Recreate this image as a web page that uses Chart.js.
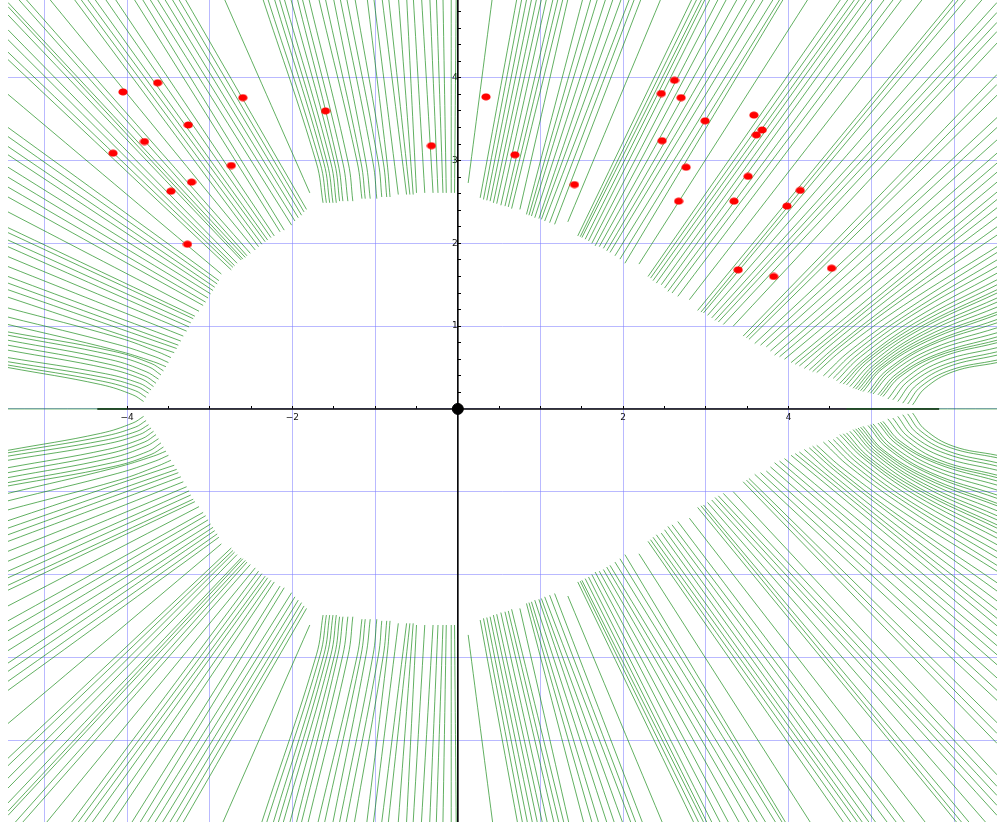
<!DOCTYPE html>
<html><head><meta charset="utf-8">
<script src="https://cdn.jsdelivr.net/npm/chart.js@4/dist/chart.umd.min.js"></script>
<style>html,body{margin:0;padding:0;background:#fff;}#wrap{width:999px;height:824px;}</style>
</head><body><div id="wrap"><canvas id="c" width="999" height="824"></canvas></div>
<script>
// ---- axis ranges / ticks ----
const xRange = [-5.44, 6.52];
const yRange = [-4.99, 4.94];
const xGridValues = [-5,-4,-3,-2,-1,0,1,2,3,4,5,6];
const yGridValues = [-4,-3,-2,-1,0,1,2,3,4];
const xTickMarks = [-4,-3.5,-3,-2.5,-2,-1.5,-1,-0.5,0,0.5,1,1.5,2,2.5,3,3.5,4,4.5];
const yTickMarks = [0,0.2,0.4,0.6,0.8,1,1.2,1.4,1.6,1.8,2,2.2,2.4,2.6,2.8,3,3.2,3.4,3.6,3.8,4,4.2,4.4,4.6,4.8];
const xLabelValues = [-4,-2,2,4];
const xLabelTexts = ['\u22124','\u22122','2','4'];
const yLabelValues = [1,2,3,4];
const yLabelTexts = ['1','2','3','4'];
const xAxisSpan = [-4.36, 5.82];
const yAxisSpan = [-4.99, 4.94];

// ---- red points ----
const dotX = [-4.05,-3.63,-2.60,-3.26,-3.79,-4.17,-2.74,-3.22,-3.47,-3.27,-1.60,-0.32,0.34,0.69,1.41,2.62,2.46,2.70,2.99,3.58,3.68,3.61,2.47,2.76,3.51,2.67,3.34,4.14,3.98,3.39,3.82,4.52];
const dotY = [3.83,3.94,3.76,3.43,3.23,3.09,2.94,2.74,2.63,1.99,3.60,3.18,3.77,3.07,2.71,3.97,3.81,3.76,3.48,3.55,3.37,3.31,3.24,2.92,2.81,2.51,2.51,2.64,2.45,1.68,1.60,1.70];

// ---- green field lines, upper half (x,y pairs from the blank region outwards) ----
const leftFan = [
 [-1.83,2.41, -3.32,4.99],
 [-1.86,2.38, -3.40,4.99],
 [-1.89,2.34, -3.48,4.99],
 [-1.93,2.31, -3.57,4.99],
 [-1.97,2.27, -3.66,4.99],
 [-2.01,2.22, -3.75,4.99],
 [-2.10,2.16, -3.84,4.99],
 [-2.15,2.14, -3.94,4.99],
 [-2.22,2.09, -4.17,4.99],
 [-2.26,2.07, -4.29,4.99],
 [-2.30,2.04, -4.42,4.99],
 [-2.33,2.02, -4.51,4.99],
 [-2.37,1.99, -4.59,4.99],
 [-2.41,1.96, -4.67,4.99],
 [-2.45,1.92, -4.97,4.99],
 [-2.51,1.88, -5.26,4.99],
 [-2.55,1.85, -5.35,4.99],
 [-2.57,1.83, -5.44,4.91],
 [-2.60,1.81, -5.44,4.86],
 [-2.62,1.80, -5.44,4.76],
 [-2.67,1.76, -5.44,4.58],
 [-2.70,1.73, -5.44,4.46],
 [-2.72,1.71, -5.44,4.31],
 [-2.74,1.68, -5.44,4.22],
 [-2.86,1.63, -5.44,3.80],
 [-2.89,1.55, -5.44,3.40],
 [-2.91,1.51, -5.44,3.29],
 [-2.94,1.47, -5.44,3.17],
 [-2.96,1.43, -5.44,3.07],
 [-2.99,1.39, -5.44,2.92],
 [-3.02,1.34, -5.44,2.80],
 [-3.05,1.29, -5.44,2.68],
 [-3.08,1.25, -5.44,2.56],
 [-3.13,1.18, -5.44,2.38],
 [-3.18,1.12, -5.44,2.19],
 [-3.20,1.09, -5.44,2.13],
 [-3.23,1.04, -5.44,2.04],
 [-3.25,0.99, -5.44,1.96],
 [-3.28,0.94, -5.44,1.84],
 [-3.32,0.88, -5.44,1.72],
 [-3.35,0.82, -5.44,1.60],
 [-3.38,0.77, -5.44,1.52],
 [-3.40,0.73, -5.44,1.44],
 [-3.43,0.68, -5.44,1.35],
 [-3.47,0.62, -3.63,0.69, -4.10,0.86, -5.44,1.22],
 [-3.50,0.56, -3.66,0.63, -4.12,0.78, -5.44,1.11],
 [-3.53,0.51, -3.68,0.57, -4.14,0.71, -5.44,1.02],
 [-3.56,0.46, -3.71,0.55, -4.16,0.695, -5.44,0.93],
 [-3.59,0.41, -3.74,0.51, -4.18,0.65, -5.44,0.89],
 [-3.62,0.36, -3.77,0.45, -4.20,0.595, -5.44,0.83],
 [-3.65,0.31, -3.79,0.40, -4.22,0.54, -5.44,0.77],
 [-3.68,0.27, -3.82,0.36, -4.24,0.49, -5.44,0.71],
 [-3.71,0.23, -3.85,0.31, -4.26,0.425, -5.44,0.62],
 [-3.74,0.19, -3.88,0.27, -4.28,0.38, -5.44,0.57],
 [-3.77,0.14, -3.90,0.22, -4.30,0.335, -5.44,0.53],
 [-3.80,0.09, -3.93,0.17, -4.32,0.295, -5.44,0.50]
];
const topFan = [
 [-1.79,2.61, -2.84,4.99],
 [-1.63,2.49, -1.71,2.97, -2.37,4.99],
 [-1.59,2.49, -1.665,2.97, -2.31,4.99],
 [-1.55,2.49, -1.62,2.97, -2.23,4.99],
 [-1.51,2.49, -1.58,2.97, -2.17,4.99],
 [-1.47,2.49, -1.535,2.97, -2.11,4.99],
 [-1.43,2.51, -1.49,2.97, -2.03,4.99],
 [-1.39,2.51, -1.45,2.97, -1.95,4.99],
 [-1.33,2.51, -1.39,2.97, -1.89,4.99],
 [-1.27,2.51, -1.325,2.97, -1.81,4.99],
 [-1.16,2.54, -1.215,2.97, -1.69,4.99],
 [-1.12,2.54, -1.17,2.97, -1.61,4.99],
 [-1.06,2.54, -1.11,2.97, -1.51,4.99],
 [-0.98,2.54, -1.025,2.97, -1.43,4.99],
 [-0.92,2.56, -0.96,2.97, -1.35,4.99],
 [-0.86,2.56, -0.90,2.97, -1.25,4.99],
 [-0.82,2.56, -0.855,2.97, -1.10,4.99],
 [-0.72,2.59, -1.02,4.99],
 [-0.62,2.59, -0.92,4.99],
 [-0.58,2.59, -0.84,4.99],
 [-0.54,2.59, -0.72,4.99],
 [-0.50,2.61, -0.62,4.99],
 [-0.40,2.61, -0.54,4.99],
 [-0.30,2.61, -0.44,4.99],
 [-0.24,2.61, -0.34,4.99],
 [-0.18,2.61, -0.26,4.99],
 [-0.14,2.61, -0.18,4.99],
 [-0.08,2.61, -0.08,4.99],
 [-0.04,2.61, -0.02,4.99],
 [0.125,2.73, 0.42,4.99]
];
const rightFan = [
 [0.27,2.55, 0.72,4.99],
 [0.31,2.53, 0.78,4.99],
 [0.35,2.52, 0.84,4.99],
 [0.39,2.51, 0.90,4.99],
 [0.43,2.49, 0.96,4.99],
 [0.47,2.48, 1.02,4.99],
 [0.52,2.46, 1.08,4.99],
 [0.57,2.45, 1.16,4.99],
 [0.61,2.44, 1.22,4.99],
 [0.65,2.42, 1.28,4.99],
 [0.75,2.41, 1.34,4.99],
 [0.83,2.35, 1.52,4.99],
 [0.86,2.34, 1.62,4.99],
 [0.89,2.33, 1.70,4.99],
 [0.93,2.31, 1.80,4.99],
 [0.98,2.30, 1.89,4.99],
 [1.01,2.29, 1.99,4.99],
 [1.05,2.27, 2.09,4.99],
 [1.11,2.25, 2.15,4.99],
 [1.17,2.23, 2.23,4.99],
 [1.33,2.26, 2.47,4.99],
 [1.45,2.09, 2.85,4.99],
 [1.48,2.08, 2.91,4.99],
 [1.50,2.07, 2.97,4.99],
 [1.54,2.05, 3.01,4.99],
 [1.58,2.03, 3.07,4.99],
 [1.62,2.00, 3.17,4.99],
 [1.66,1.97, 3.27,4.99],
 [1.71,1.96, 3.40,4.99],
 [1.76,1.94, 3.52,4.99],
 [1.80,1.91, 3.62,4.99],
 [1.84,1.89, 3.72,4.99],
 [1.90,1.85, 3.84,4.99],
 [1.96,1.81, 3.92,4.99],
 [2.02,1.76, 3.96,4.99],
 [2.19,1.75, 4.26,4.99],
 [2.30,1.60, 4.66,4.99],
 [2.33,1.58, 4.75,4.99],
 [2.36,1.55, 4.83,4.99],
 [2.40,1.52, 4.89,4.99],
 [2.46,1.50, 4.97,4.99],
 [2.50,1.46, 5.05,4.99],
 [2.54,1.42, 5.19,4.99],
 [2.59,1.40, 5.30,4.99],
 [2.66,1.36, 5.40,4.99],
 [2.80,1.32, 5.65,4.99],
 [2.90,1.19, 6.03,4.99],
 [2.94,1.17, 6.09,4.99],
 [2.97,1.16, 6.18,4.99],
 [3.02,1.13, 6.38,4.99],
 [3.07,1.10, 6.52,4.91],
 [3.11,1.07, 6.52,4.79],
 [3.15,1.05, 6.52,4.67],
 [3.21,1.02, 6.52,4.56],
 [3.33,1.00, 6.52,4.42],
 [3.45,0.88, 6.52,4.04],
 [3.49,0.86, 6.52,3.92],
 [3.52,0.84, 6.52,3.79],
 [3.59,0.79, 6.52,3.52],
 [3.66,0.77, 6.52,3.40],
 [3.73,0.75, 6.52,3.25],
 [3.78,0.70, 6.52,3.09],
 [3.83,0.65, 6.52,2.97],
 [3.89,0.63, 6.52,2.86],
 [3.95,0.60, 6.52,2.74],
 [4.03,0.56, 6.52,2.62],
 [4.08,0.54, 6.52,2.53],
 [4.13,0.52, 4.49,0.82, 5.28,1.46, 6.52,2.43],
 [4.19,0.49, 4.54,0.80, 5.31,1.41, 6.52,2.32],
 [4.25,0.47, 4.59,0.77, 5.34,1.35, 6.52,2.20],
 [4.29,0.45, 4.62,0.75, 5.36,1.31, 6.52,2.10],
 [4.34,0.44, 4.67,0.73, 5.39,1.25, 6.52,1.96],
 [4.42,0.40, 4.74,0.70, 5.43,1.20, 6.52,1.89],
 [4.48,0.38, 4.79,0.68, 5.46,1.16, 6.52,1.80],
 [4.54,0.37, 4.84,0.66, 5.49,1.13, 6.52,1.72],
 [4.58,0.34, 4.87,0.63, 5.51,1.08, 6.52,1.64],
 [4.62,0.31, 4.91,0.60, 5.53,1.04, 6.52,1.56],
 [4.66,0.30, 4.94,0.59, 5.55,1.01, 6.52,1.50],
 [4.70,0.29, 4.97,0.58, 5.57,0.98, 6.52,1.44],
 [4.74,0.27, 5.01,0.56, 5.59,0.96, 6.52,1.40],
 [4.78,0.25, 5.04,0.54, 5.62,0.93, 6.52,1.34],
 [4.81,0.24, 5.07,0.53, 5.63,0.90, 6.52,1.29],
 [4.84,0.23, 5.09,0.51, 5.65,0.87, 6.52,1.23],
 [4.87,0.22, 5.12,0.50, 5.66,0.84, 6.52,1.17],
 [4.90,0.21, 5.14,0.49, 5.68,0.82, 6.52,1.14],
 [4.96,0.20, 5.19,0.47, 5.71,0.79, 6.52,1.08],
 [4.99,0.19, 5.22,0.46, 5.72,0.77, 6.52,1.04],
 [5.02,0.18, 5.25,0.44, 5.74,0.73, 6.52,0.98],
 [5.08,0.17, 5.30,0.42, 5.77,0.70, 6.52,0.92],
 [5.11,0.16, 5.32,0.40, 5.79,0.66, 6.52,0.87],
 [5.14,0.15, 5.35,0.39, 5.80,0.64, 6.52,0.83],
 [5.20,0.12, 5.40,0.36, 5.83,0.62, 6.52,0.80],
 [5.26,0.11, 5.45,0.34, 5.87,0.58, 6.52,0.74],
 [5.32,0.09, 5.50,0.32, 5.90,0.54, 6.52,0.69],
 [5.38,0.07, 5.55,0.29, 5.93,0.51, 6.52,0.65],
 [5.44,0.06, 5.60,0.27, 5.96,0.47, 6.52,0.59],
 [5.50,0.05, 5.65,0.25, 5.99,0.45, 6.52,0.56]
];
// field lines lying on the x axis itself
const axisFieldLines = [
 [-5.44,0, -4.00,0],
 [4.70,0, 6.52,0]
];

// ---- helpers ----
const near = (a, b) => Math.abs(a - b) < 1e-6;
const inList = (v, list) => list.some(a => near(a, v));
function linesToPoints(lines, ySign) {
  const pts = [];
  lines.forEach(l => {
    for (let i = 0; i < l.length; i += 2) pts.push({x: l[i], y: ySign * l[i + 1]});
    pts.push({x: null, y: null});
  });
  return pts;
}
const upperLines = [...leftFan, ...topFan, ...rightFan];
// the figure is symmetric about y = 0: the lower half shows the same lines reflected
const upperPts = linesToPoints(upperLines, 1);
const lowerPts = linesToPoints(upperLines, -1);
const axisPts = linesToPoints(axisFieldLines, 1);

const dotImg = document.createElement('canvas');
dotImg.width = 10; dotImg.height = 8;
(function(){ const g = dotImg.getContext('2d'); g.fillStyle = '#ff0000'; g.beginPath(); g.ellipse(5, 4, 4.6, 3.6, 0, 0, Math.PI * 2); g.fill(); })();

const GREEN = 'rgba(0,128,0,0.62)';
const GRID = 'rgba(120,120,255,0.52)';
const CLEAR = 'rgba(0,0,0,0)';
const zeroPad = s => { s.paddingLeft = 0; s.paddingRight = 0; s.paddingTop = 0; s.paddingBottom = 0; };
const merged = (a, b) => Array.from(new Set([...a, ...b].map(v => Math.round(v * 1000) / 1000))).sort((p, q) => p - q);

const greenLine = (data) => ({type: 'scatter', data, showLine: true, spanGaps: false, tension: 0.4,
  borderColor: GREEN, borderWidth: 1, pointRadius: 0, fill: false, order: 3});

new Chart(document.getElementById('c'), {
  type: 'scatter',
  data: {
    datasets: [
      {data: dotX.map((x, i) => ({x, y: dotY[i]})), pointStyle: dotImg, pointRadius: 5, showLine: false, order: 0},
      {data: [{x: 0, y: 0}], pointStyle: 'circle', pointRadius: 5.5, backgroundColor: '#000', borderColor: '#000', showLine: false, order: 1},
      greenLine(upperPts),
      greenLine(lowerPts),
      greenLine(axisPts),
      {data: [{x: xAxisSpan[0], y: 0}, {x: xAxisSpan[1], y: 0}], showLine: true, borderColor: '#000', borderWidth: 1.6, pointRadius: 0, order: 5},
      {data: [{x: 0, y: yAxisSpan[0]}, {x: 0, y: yAxisSpan[1]}], showLine: true, borderColor: '#000', borderWidth: 1.6, pointRadius: 0, order: 5}
    ]
  },
  options: {
    responsive: false, devicePixelRatio: 1, animation: false, events: [],
    layout: {autoPadding: false, padding: {left: 8, right: 2, top: 0, bottom: 2}},
    plugins: {legend: {display: false}, tooltip: {enabled: false}},
    scales: {
      x: {
        type: 'linear', min: xRange[0], max: xRange[1], position: {y: 0},
        afterBuildTicks: s => { s.ticks = merged(xGridValues, xTickMarks).map(v => ({value: v})); },
        afterFit: zeroPad,
        border: {display: false},
        grid: {
          color: c => (c.tick && inList(c.tick.value, xGridValues)) ? GRID : CLEAR,
          tickColor: c => (c.tick && inList(c.tick.value, xTickMarks)) ? '#000' : CLEAR,
          lineWidth: 1, tickLength: -3, tickWidth: 1
        },
        ticks: {
          autoSkip: false, maxRotation: 0, minRotation: 0, padding: 6, color: '#111',
          font: {family: 'DejaVu Sans', size: 9},
          callback: v => { const i = xLabelValues.findIndex(a => near(a, v)); return i >= 0 ? xLabelTexts[i] : ''; }
        }
      },
      y: {
        type: 'linear', min: yRange[0], max: yRange[1], position: {x: 0},
        afterBuildTicks: s => { s.ticks = merged(yGridValues, yTickMarks).map(v => ({value: v})); },
        afterFit: zeroPad,
        border: {display: false},
        grid: {
          color: c => (c.tick && inList(c.tick.value, yGridValues)) ? GRID : CLEAR,
          tickColor: c => (c.tick && inList(c.tick.value, yTickMarks)) ? '#000' : CLEAR,
          lineWidth: 1, tickLength: -3, tickWidth: 1
        },
        ticks: {
          autoSkip: false, padding: 8, color: '#111',
          font: {family: 'DejaVu Sans', size: 9},
          callback: v => { const i = yLabelValues.findIndex(a => near(a, v)); return i >= 0 ? yLabelTexts[i] : ''; }
        }
      }
    }
  }
});
</script>
</body></html>
